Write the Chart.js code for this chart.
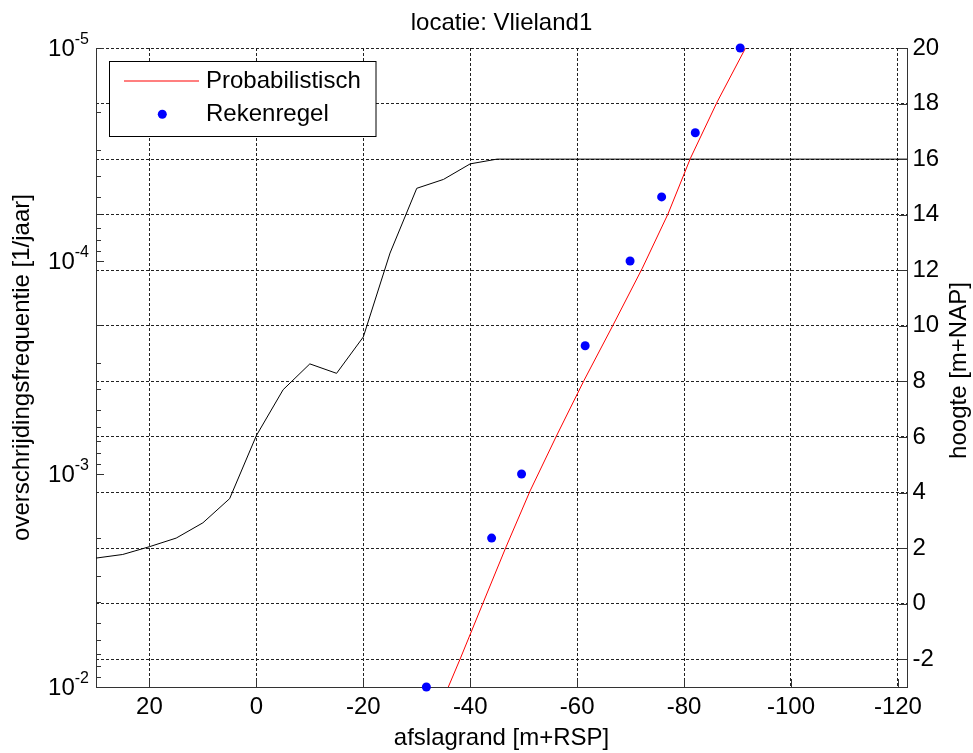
<!DOCTYPE html>
<html>
<head>
<meta charset="utf-8">
<title>locatie: Vlieland1</title>
<script src="https://cdn.jsdelivr.net/npm/chart.js@4/dist/chart.umd.min.js"></script>
<style>
  html, body { margin: 0; padding: 0; background: #ffffff; }
  #wrap { width: 973px; height: 753px; }
</style>
</head>
<body>
<div id="wrap"><canvas id="c" width="973" height="753"></canvas></div>
<script>
// Dune profile: afslagrand [m+RSP] vs hoogte [m+NAP]
const profileX = [30, 25, 20, 15, 10, 5, 0, -5, -10, -15, -20, -25, -30, -35, -40, -45, -121.7];
const profileZ = [1.64, 1.77, 2.05, 2.36, 2.91, 3.78, 6.05, 7.70, 8.63, 8.29, 9.60, 12.62, 14.95, 15.27, 15.83, 16.0, 16.0];

// Probabilistic erosion line: afslagrand vs exceedance frequency [1/jaar]
const probX = [-35.9, -38.1, -42.4, -46.7, -51.2, -56.1, -61.3, -66.8, -72.2, -77.0, -81.2, -86.2, -91.5];
const probF = [1e-2, 7.4e-3, 4.03e-3, 2.2e-3, 1.2e-3, 6.65e-4, 3.63e-4, 1.98e-4, 1.08e-4, 6.01e-5, 3.29e-5, 1.79e-5, 1e-5];

// Rule-based erosion points
const rekenX = [-31.8, -44.0, -49.6, -61.5, -69.9, -75.8, -82.1, -90.5];
const rekenF = [1e-2, 2e-3, 1e-3, 2.5e-4, 1e-4, 5e-5, 2.5e-5, 1e-5];

// Axis ticks
const xTicks = [20, 0, -20, -40, -60, -80, -100, -120];
const heightTicks = [-2, 0, 2, 4, 6, 8, 10, 12, 14, 16, 18, 20];
const freqTicks = [1e-5, 1e-4, 1e-3, 1e-2];
const freqTickExp = ['-5', '-4', '-3', '-2'];

const FONT = "'Liberation Sans', Arial, Helvetica, sans-serif";
const GRID = '#222222';
const AXIS = '#333333';
const PROB_COLOR = 'rgb(255, 0, 0)';
const REKEN_COLOR = 'rgb(0, 0, 255)';
const REKEN_RADIUS = 4.5;

const toXY = (xs, ys) => xs.map((x, i) => ({ x: x, y: ys[i] }));

// Inward tick marks, superscript log labels, right-hand title and boxed legend
const axisDecor = {
  id: 'axisDecor',
  afterDatasetsDraw(chart) {
    const { ctx, chartArea: a, scales } = chart;
    const yl = scales.y, yr = scales.y2, xs = scales.x;
    ctx.save();
    ctx.strokeStyle = AXIS;
    ctx.lineWidth = 1;
    ctx.setLineDash([]);
    ctx.beginPath();
    // left log axis: decades and 2..9 minor ticks
    for (let i = 0; i < freqTicks.length; i++) {
      const v = freqTicks[i];
      const p = Math.round(yl.getPixelForValue(v)) + 0.5;
      ctx.moveTo(a.left, p); ctx.lineTo(a.left + 8, p);
      if (i < freqTicks.length - 1) {
        for (let k = 2; k <= 9; k++) {
          const q = Math.round(yl.getPixelForValue(v * k)) + 0.5;
          ctx.moveTo(a.left, q); ctx.lineTo(a.left + 5, q);
        }
      }
    }
    // right linear axis
    heightTicks.forEach(v => {
      const p = Math.round(yr.getPixelForValue(v)) + 0.5;
      ctx.moveTo(a.right, p); ctx.lineTo(a.right - 8, p);
    });
    // bottom axis
    xTicks.forEach(v => {
      const p = Math.round(xs.getPixelForValue(v)) + 0.5;
      ctx.moveTo(p, a.bottom); ctx.lineTo(p, a.bottom - 8);
    });
    ctx.stroke();
    ctx.restore();

    // left tick labels 10^n
    ctx.save();
    ctx.fillStyle = '#000';
    ctx.textAlign = 'right';
    ctx.textBaseline = 'alphabetic';
    freqTicks.forEach((v, i) => {
      const p = yl.getPixelForValue(v);
      ctx.font = '16px ' + FONT;
      const ex = freqTickExp[i];
      const w = ctx.measureText(ex).width;
      ctx.fillText(ex, 89, p - 4.5);
      ctx.font = '24px ' + FONT;
      ctx.fillText('10', 89 - w, p + 7.5);
    });
    ctx.restore();

    // right axis title, reading upwards
    ctx.save();
    ctx.fillStyle = '#000';
    ctx.translate(959, (a.top + a.bottom) / 2 + 3);
    ctx.rotate(-Math.PI / 2);
    ctx.textAlign = 'center';
    ctx.textBaseline = 'middle';
    ctx.font = '24px ' + FONT;
    ctx.fillText('hoogte [m+NAP]', 0, 0);
    ctx.restore();

    // legend box
    ctx.save();
    const lx = 109.5, ly = 61.5, lw = 266.5, lh = 75;
    ctx.fillStyle = '#ffffff';
    ctx.fillRect(lx, ly, lw, lh);
    ctx.lineWidth = 1;
    ctx.strokeStyle = '#000000';
    ctx.strokeRect(lx, ly, lw, lh);
    ctx.restore();

    // line sample
    ctx.save();
    ctx.setLineDash([]);
    ctx.lineWidth = 1.2;
    ctx.strokeStyle = PROB_COLOR;
    ctx.beginPath();
    ctx.moveTo(124, 81);
    ctx.lineTo(199, 81);
    ctx.stroke();
    ctx.restore();

    // marker sample
    ctx.save();
    ctx.fillStyle = REKEN_COLOR;
    ctx.beginPath();
    ctx.arc(162.3, 114.3, REKEN_RADIUS, 0, Math.PI * 2);
    ctx.fill();
    ctx.restore();

    const ds = chart.data.datasets;
    ctx.save();
    ctx.fillStyle = '#000';
    ctx.textAlign = 'left';
    ctx.textBaseline = 'middle';
    ctx.font = '24px ' + FONT;
    ctx.fillText(ds[0].label, 206, 81);
    ctx.fillText(ds[1].label, 206, 114);
    ctx.restore();
  }
};

Chart.defaults.font.family = FONT;
Chart.defaults.color = '#000';

new Chart(document.getElementById('c'), {
  type: 'scatter',
  data: {
    datasets: [
      {
        label: 'Probabilistisch',
        data: toXY(probX, probF),
        showLine: true,
        borderColor: PROB_COLOR,
        backgroundColor: PROB_COLOR,
        borderWidth: 1,
        pointRadius: 0,
        tension: 0,
        xAxisID: 'x',
        yAxisID: 'y',
        order: 1
      },
      {
        label: 'Rekenregel',
        data: toXY(rekenX, rekenF),
        showLine: false,
        borderColor: REKEN_COLOR,
        backgroundColor: REKEN_COLOR,
        borderWidth: 0,
        pointRadius: REKEN_RADIUS,
        pointHoverRadius: REKEN_RADIUS,
        clip: false,
        xAxisID: 'x',
        yAxisID: 'y',
        order: 0
      },
      {
        label: 'profiel',
        data: toXY(profileX, profileZ),
        showLine: true,
        borderColor: '#000000',
        backgroundColor: '#000000',
        borderWidth: 1,
        pointRadius: 0,
        tension: 0,
        xAxisID: 'x',
        yAxisID: 'y2',
        order: 2
      }
    ]
  },
  options: {
    responsive: false,
    animation: false,
    devicePixelRatio: 1,
    events: [],
    layout: { padding: 0 },
    plugins: {
      legend: { display: false },
      tooltip: { enabled: false },
      title: {
        display: true,
        text: 'locatie: Vlieland1',
        fullSize: false,
        color: '#000',
        font: { size: 24, weight: 'normal', family: FONT, lineHeight: 1.2 },
        padding: { top: 8.8, bottom: 10.4 }
      }
    },
    scales: {
      x: {
        type: 'linear',
        position: 'bottom',
        reverse: true,
        min: -121.7,
        max: 30,
        afterBuildTicks: s => { s.ticks = xTicks.map(v => ({ value: v })); },
        afterFit: s => { s.height = 66; },
        ticks: {
          callback: v => String(v),
          font: { size: 24, family: FONT },
          color: '#000',
          padding: 6.3,
          maxRotation: 0,
          autoSkip: false
        },
        grid: { display: true, drawTicks: false, color: GRID, lineWidth: 1 },
        border: { display: true, color: AXIS, width: 1, dash: [3, 2] },
        title: {
          display: true,
          text: 'afslagrand [m+RSP]',
          color: '#000',
          font: { size: 24, family: FONT, lineHeight: 1.2 },
          padding: { top: 0, bottom: 0.5 }
        }
      },
      y: {
        type: 'logarithmic',
        position: 'left',
        reverse: true,
        min: 1e-5,
        max: 1e-2,
        afterFit: s => { s.width = 96; },
        ticks: { display: false },
        grid: { display: false, drawTicks: false },
        border: { display: true, color: AXIS, width: 1 },
        title: {
          display: true,
          text: 'overschrijdingsfrequentie [1/jaar]',
          color: '#000',
          font: { size: 24, family: FONT, lineHeight: 1.2 },
          padding: { top: 8, bottom: 0 }
        }
      },
      y2: {
        type: 'linear',
        position: 'right',
        min: -3,
        max: 20,
        afterBuildTicks: s => { s.ticks = heightTicks.map(v => ({ value: v })); },
        afterFit: s => { s.width = 66; },
        ticks: {
          callback: v => String(v),
          font: { size: 24, family: FONT },
          color: '#000',
          padding: 5.5,
          autoSkip: false
        },
        grid: { display: true, drawTicks: false, drawOnChartArea: true, color: GRID, lineWidth: 1 },
        border: { display: true, color: AXIS, width: 1, dash: [3, 2] }
      }
    }
  },
  plugins: [axisDecor]
});
</script>
</body>
</html>
